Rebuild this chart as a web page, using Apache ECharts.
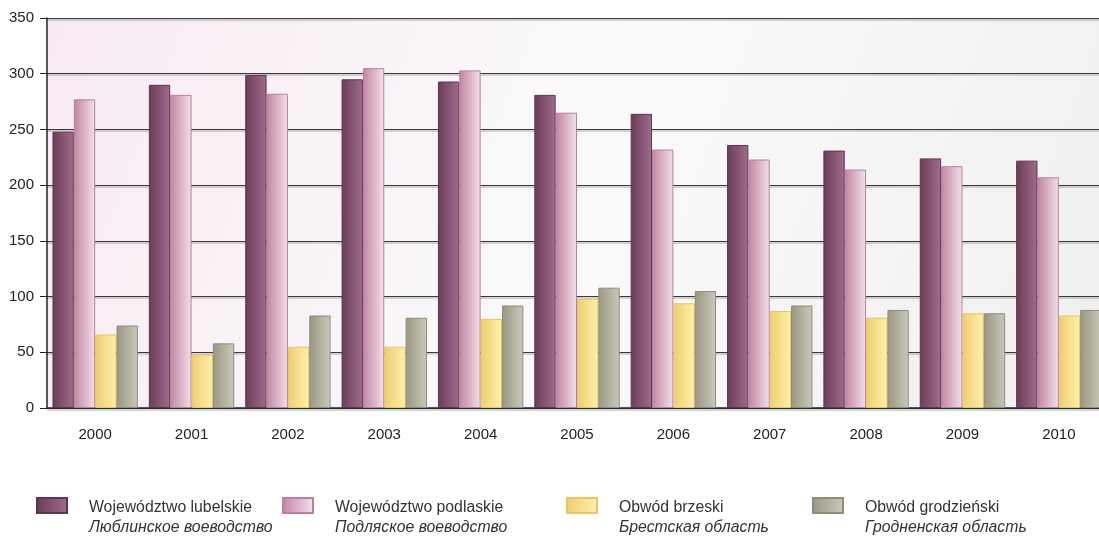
<!DOCTYPE html>
<html><head><meta charset="utf-8">
<script src="https://cdn.jsdelivr.net/npm/echarts@6/dist/echarts.min.js"></script>
<style>html,body{margin:0;padding:0;background:#fff;overflow:hidden}#c{width:1107px;height:536px}</style>
</head><body><div id="c"></div>
<script>
const years = ['2000','2001','2002','2003','2004','2005','2006','2007','2008','2009','2010'];
const lubelskie = [248,290,299,295,293,281,264,236,231,224,222];
const podlaskie = [277,281,282,305,303,265,232,223,214,217,207];
const brzeski   = [66,48,55,55,80,98,94,87,81,85,83];
const grodzienski = [74,58,83,81,92,108,105,92,88,85,88];
const namesPl = ['Województwo lubelskie','Województwo podlaskie','Obwód brzeski','Obwód grodzieński'];
const namesRu = ['Люблинское воеводство','Подляское воеводство','Брестская область','Гродненская область'];

function grad(c0,c1){return {type:'linear',x:0,y:0,x2:1,y2:0,colorStops:[{offset:0,color:c0},{offset:1,color:c1}]};}
const styles = [
  {color:grad('#6a3c58','#a06d8c'),borderColor:'#5e3450'},
  {color:grad('#c1859f','#f4e0ec'),borderColor:'#b97fa2'},
  {color:grad('#efcc74','#fdf2a8'),borderColor:'#e5c46c'},
  {color:grad('#999780','#cac8bb'),borderColor:'#8f8d78'}
];
const dataArr = [lubelskie,podlaskie,brzeski,grodzienski];
const legendLeft = [36,282,566,812];
const FF = 'Liberation Sans, Arial, sans-serif';

const chart = echarts.init(document.getElementById('c'));
chart.setOption({
  animation:false,
  textStyle:{fontFamily:FF},
  grid:{left:47,top:18,bottom:128,right:0,show:true,borderWidth:0,
    backgroundColor:{type:'linear',x:0,y:0,x2:1,y2:1,colorStops:[{offset:0,color:'#f8eaf3'},{offset:0.5,color:'#fafafa'},{offset:1,color:'#eeefee'}]}},
  xAxis:{type:'category',data:years,
    axisLine:{lineStyle:{color:'#222',width:1.5}},
    axisTick:{show:false},
    axisLabel:{color:'#222',fontSize:15,margin:19}},
  yAxis:{type:'value',min:0,max:350,interval:50,
    axisLine:{show:true,lineStyle:{color:'#222',width:1.5}},
    axisTick:{show:true,length:7,lineStyle:{color:'#222'}},
    axisLabel:{color:'#222',fontSize:15,margin:13},
    splitLine:{lineStyle:{color:'#3a3a3a',width:1,shadowColor:'rgba(0,0,0,0.35)',shadowOffsetY:1.5,shadowBlur:1}}},
  legend: namesPl.map((n,i)=>({
    data:[n],left:legendLeft[i],top:497,padding:0,icon:'rect',itemWidth:30,itemHeight:15,itemGap:0,
    formatter:()=>'{a|'+namesPl[i]+'}\n{b|'+namesRu[i]+'}',
    textStyle:{padding:[24,0,0,17],color:'#333',
      rich:{a:{fontSize:15.8,lineHeight:20,color:'#333',fontFamily:FF},
            b:{fontSize:15.8,lineHeight:20,color:'#333',fontStyle:'italic',fontFamily:FF}}}
  })),
  series: dataArr.map((d,i)=>({
    type:'bar',name:namesPl[i],data:d,barGap:'0%',barCategoryGap:'11.4%',
    itemStyle:Object.assign({borderWidth:1},styles[i])
  }))
});
</script></body></html>
